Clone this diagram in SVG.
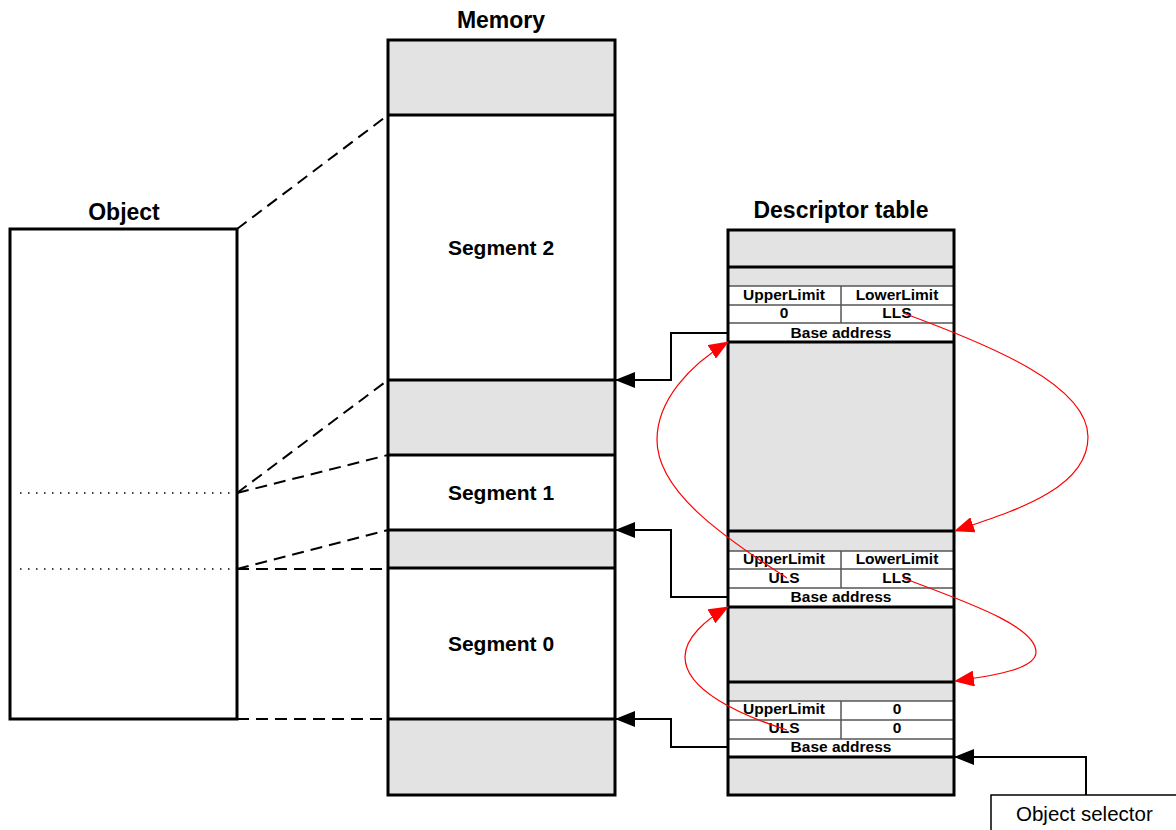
<svg xmlns="http://www.w3.org/2000/svg" width="1176" height="830" viewBox="0 0 1176 830">
<style>
.t{font-family:"Liberation Sans",Arial,sans-serif;font-weight:bold;fill:#000;text-anchor:middle}
.title{font-size:23px}
.seg{font-size:21px}
.cell{font-size:15.5px}
.gray{fill:#e3e3e3;stroke:none}
.white{fill:#fff;stroke:none}
.thick{stroke:#000;stroke-width:3;fill:none}
.thin{stroke:#555;stroke-width:1.5;fill:none}
.dash{stroke:#000;stroke-width:2;stroke-dasharray:12 7;fill:none}
.dot{stroke:#000;stroke-width:1.5;stroke-dasharray:1.5 6.5;fill:none}
.conn{stroke:#000;stroke-width:2;fill:none}
.red{stroke:#f00;stroke-width:1.2;fill:none}
</style>
<defs>
<marker id="ab" markerUnits="userSpaceOnUse" markerWidth="20" markerHeight="16" refX="19" refY="8" orient="auto" viewBox="0 0 20 16">
<path d="M0,0 L20,8 L0,16 Z" fill="#000"/>
</marker>
<marker id="ar" markerUnits="userSpaceOnUse" markerWidth="20" markerHeight="16" refX="19" refY="8" orient="auto" viewBox="0 0 20 16">
<path d="M0,0 L20,8 L0,16 Z" fill="#f00"/>
</marker>
</defs>
<rect width="1176" height="830" fill="#fff"/>

<g id="object">
<text class="t title" x="124" y="220">Object</text>
<rect x="10" y="229" width="227" height="490" fill="#fff" class="thick"/>
<line class="dot" x1="20" y1="493" x2="234" y2="493"/>
<line class="dot" x1="20" y1="569" x2="234" y2="569"/>
</g>

<g id="memory">
<text class="t title" x="501" y="28">Memory</text>
<rect class="gray" x="388" y="40" width="227" height="75"/>
<rect class="gray" x="388" y="380" width="227" height="75"/>
<rect class="gray" x="388" y="530" width="227" height="38"/>
<rect class="gray" x="388" y="719" width="227" height="76"/>
<rect class="thick" x="388" y="40" width="227" height="755"/>
<line class="thick" x1="388" y1="115" x2="615" y2="115"/>
<line class="thick" x1="388" y1="380" x2="615" y2="380"/>
<line class="thick" x1="388" y1="455" x2="615" y2="455"/>
<line class="thick" x1="388" y1="530" x2="615" y2="530"/>
<line class="thick" x1="388" y1="568" x2="615" y2="568"/>
<line class="thick" x1="388" y1="719" x2="615" y2="719"/>
<text class="t seg" x="501" y="255">Segment 2</text>
<text class="t seg" x="501" y="500">Segment 1</text>
<text class="t seg" x="501" y="651">Segment 0</text>
</g>

<g id="descriptor-table">
<text class="t title" x="841" y="218">Descriptor table</text>
<rect class="gray" x="728" y="230" width="226" height="565"/>
<rect class="white" x="728" y="286" width="226" height="56"/>
<rect class="white" x="728" y="551" width="226" height="56"/>
<rect class="white" x="728" y="701" width="226" height="56"/>
<!-- entry 2 -->
<line class="thin" x1="728" y1="286" x2="954" y2="286"/>
<line class="thin" x1="728" y1="305" x2="954" y2="305"/>
<line class="thin" x1="728" y1="323" x2="954" y2="323"/>
<line class="thin" x1="841" y1="286" x2="841" y2="323"/>
<text class="t cell" x="784" y="300">UpperLimit</text>
<text class="t cell" x="897" y="300">LowerLimit</text>
<text class="t cell" x="784" y="318">0</text>
<text class="t cell" x="897" y="318">LLS</text>
<text class="t cell" x="841" y="338">Base address</text>
<!-- entry 1 -->
<line class="thin" x1="728" y1="551" x2="954" y2="551"/>
<line class="thin" x1="728" y1="569" x2="954" y2="569"/>
<line class="thin" x1="728" y1="588" x2="954" y2="588"/>
<line class="thin" x1="841" y1="551" x2="841" y2="588"/>
<text class="t cell" x="784" y="564">UpperLimit</text>
<text class="t cell" x="897" y="564">LowerLimit</text>
<text class="t cell" x="784" y="583">ULS</text>
<text class="t cell" x="897" y="583">LLS</text>
<text class="t cell" x="841" y="602">Base address</text>
<!-- entry 0 -->
<line class="thin" x1="728" y1="701" x2="954" y2="701"/>
<line class="thin" x1="728" y1="720" x2="954" y2="720"/>
<line class="thin" x1="728" y1="739" x2="954" y2="739"/>
<line class="thin" x1="841" y1="701" x2="841" y2="739"/>
<text class="t cell" x="784" y="714">UpperLimit</text>
<text class="t cell" x="897" y="714">0</text>
<text class="t cell" x="784" y="733">ULS</text>
<text class="t cell" x="897" y="733">0</text>
<text class="t cell" x="841" y="752">Base address</text>
<rect class="thick" x="728" y="230" width="226" height="565"/>
<line class="thick" x1="728" y1="267" x2="954" y2="267"/>
<line class="thick" x1="728" y1="342" x2="954" y2="342"/>
<line class="thick" x1="728" y1="531" x2="954" y2="531"/>
<line class="thick" x1="728" y1="607" x2="954" y2="607"/>
<line class="thick" x1="728" y1="682" x2="954" y2="682"/>
<line class="thick" x1="728" y1="757" x2="954" y2="757"/>
</g>

<g id="object-selector">
<path d="M1178,795 H991 V832" fill="#fff" stroke="#000" stroke-width="1.5"/>
<text x="1016" y="821" font-family="Liberation Sans, Arial, sans-serif" font-size="20.5" fill="#000">Object selector</text>
</g>

<g id="connectors">
<line class="dash" x1="237" y1="229" x2="388" y2="115"/>
<line class="dash" x1="237" y1="493" x2="388" y2="380"/>
<line class="dash" x1="237" y1="493" x2="388" y2="455"/>
<line class="dash" x1="237" y1="569" x2="388" y2="530"/>
<line class="dash" x1="237" y1="569" x2="388" y2="569"/>
<line class="dash" x1="237" y1="719" x2="388" y2="719"/>
<path class="conn" d="M728,333 H671 V380 H616" marker-end="url(#ab)"/>
<path class="conn" d="M728,597 H671 V530 H616" marker-end="url(#ab)"/>
<path class="conn" d="M728,747 H671 V719 H616" marker-end="url(#ab)"/>
<path class="conn" d="M1086,795 V757 H955" marker-end="url(#ab)"/>
<path class="red" d="M903,313 C990,345 1088,385 1088,437 C1088,490 1010,512 955,531" marker-end="url(#ar)"/>
<path class="red" d="M787,578 C720,535 657,490 657,440 C657,400 690,365 728,342" marker-end="url(#ar)"/>
<path class="red" d="M903,578 C960,600 1036,625 1036,652 C1036,668 1000,675 955,681" marker-end="url(#ar)"/>
<path class="red" d="M787,730 C740,715 685,690 685,657 C685,638 705,620 728,607" marker-end="url(#ar)"/>
</g>
</svg>
